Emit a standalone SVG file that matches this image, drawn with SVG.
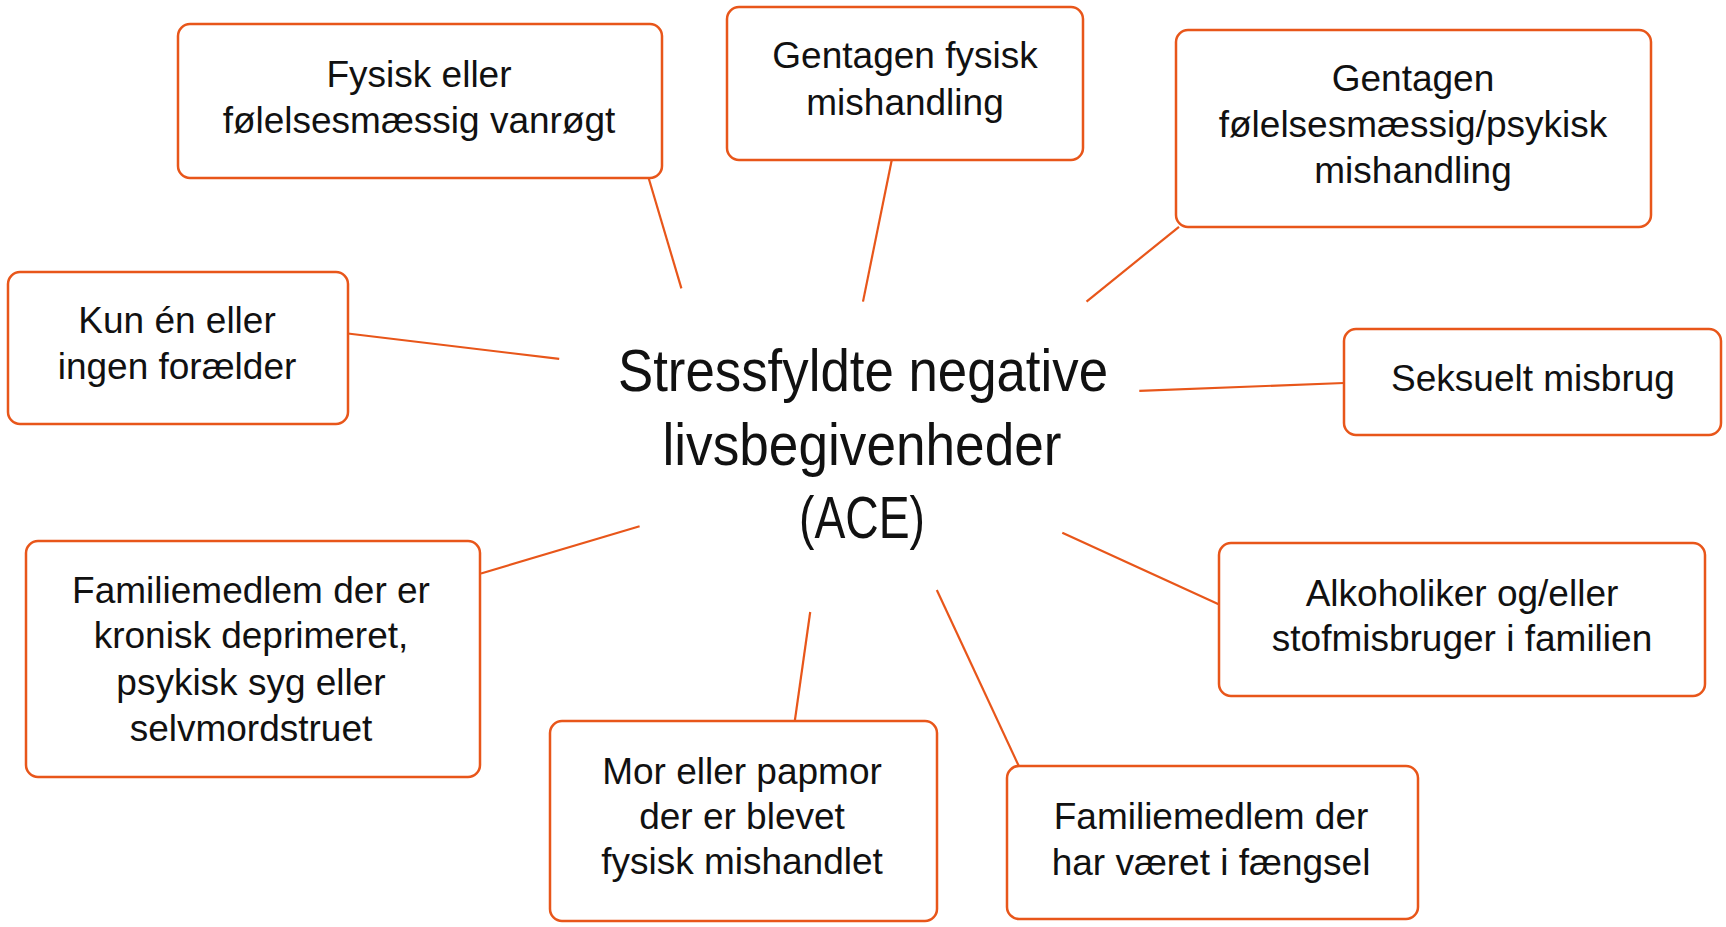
<svg xmlns="http://www.w3.org/2000/svg" width="1726" height="927" viewBox="0 0 1726 927">
<style>
.box{fill:#fff;stroke:#E8561A;stroke-width:2.5}
.lbl{font-family:"Liberation Sans",Arial,sans-serif;font-size:37px;fill:#111;text-anchor:middle}
.ctr{font-family:"Liberation Sans Narrow","Liberation Sans",Arial,sans-serif;font-size:60px;fill:#111;text-anchor:middle}
.con line{stroke:#E8561A;stroke-width:2.2}
</style>
<rect width="1726" height="927" fill="#fff"/>
<g id="connectors" class="con">
<line x1="648.4" y1="177.2" x2="681.4" y2="288.4"/>
<line x1="891.6" y1="160.7" x2="863" y2="301.6"/>
<line x1="1179" y1="226.8" x2="1086.5" y2="301.6"/>
<line x1="347.8" y1="333.5" x2="559.2" y2="358.9"/>
<line x1="1344" y1="383" x2="1139.3" y2="390.8"/>
<line x1="481" y1="573.5" x2="639.6" y2="526.2"/>
<line x1="794.8" y1="721" x2="810.2" y2="612"/>
<line x1="1019.4" y1="767.3" x2="936.8" y2="590"/>
<line x1="1218.6" y1="604.3" x2="1062.3" y2="532.8"/>
</g>
<g id="center">
<text class="ctr" x="863" y="391" textLength="490" lengthAdjust="spacingAndGlyphs">Stressfyldte negative</text>
<text class="ctr" x="862" y="465" textLength="399" lengthAdjust="spacingAndGlyphs">livsbegivenheder</text>
<text class="ctr" x="862" y="538" textLength="126" lengthAdjust="spacingAndGlyphs">(ACE)</text>
</g>
<g id="n1"><rect class="box" x="178" y="24" width="484" height="154" rx="12"/>
<text class="lbl" x="419" y="87">Fysisk eller</text>
<text class="lbl" x="419" y="133">følelsesmæssig vanrøgt</text></g>
<g id="n2"><rect class="box" x="727" y="7" width="356" height="153" rx="12"/>
<text class="lbl" x="905" y="68">Gentagen fysisk</text>
<text class="lbl" x="905" y="115">mishandling</text></g>
<g id="n3"><rect class="box" x="1176" y="30" width="475" height="197" rx="12"/>
<text class="lbl" x="1413" y="91">Gentagen</text>
<text class="lbl" x="1413" y="137">følelsesmæssig/psykisk</text>
<text class="lbl" x="1413" y="183">mishandling</text></g>
<g id="n4"><rect class="box" x="8" y="272" width="340" height="152" rx="12"/>
<text class="lbl" x="177" y="333">Kun én eller</text>
<text class="lbl" x="177" y="379">ingen forælder</text></g>
<g id="n5"><rect class="box" x="1344" y="329" width="377" height="106" rx="12"/>
<text class="lbl" x="1533" y="391">Seksuelt misbrug</text></g>
<g id="n6"><rect class="box" x="26" y="541" width="454" height="236" rx="12"/>
<text class="lbl" x="251" y="603">Familiemedlem der er</text>
<text class="lbl" x="251" y="648">kronisk deprimeret,</text>
<text class="lbl" x="251" y="695">psykisk syg eller</text>
<text class="lbl" x="251" y="741">selvmordstruet</text></g>
<g id="n7"><rect class="box" x="550" y="721" width="387" height="200" rx="12"/>
<text class="lbl" x="742" y="784">Mor eller papmor</text>
<text class="lbl" x="742" y="829">der er blevet</text>
<text class="lbl" x="742" y="874">fysisk mishandlet</text></g>
<g id="n8"><rect class="box" x="1007" y="766" width="411" height="153" rx="12"/>
<text class="lbl" x="1211" y="829">Familiemedlem der</text>
<text class="lbl" x="1211" y="875">har været i fængsel</text></g>
<g id="n9"><rect class="box" x="1219" y="543" width="486" height="153" rx="12"/>
<text class="lbl" x="1462" y="606">Alkoholiker og/eller</text>
<text class="lbl" x="1462" y="651">stofmisbruger i familien</text></g>
</svg>
